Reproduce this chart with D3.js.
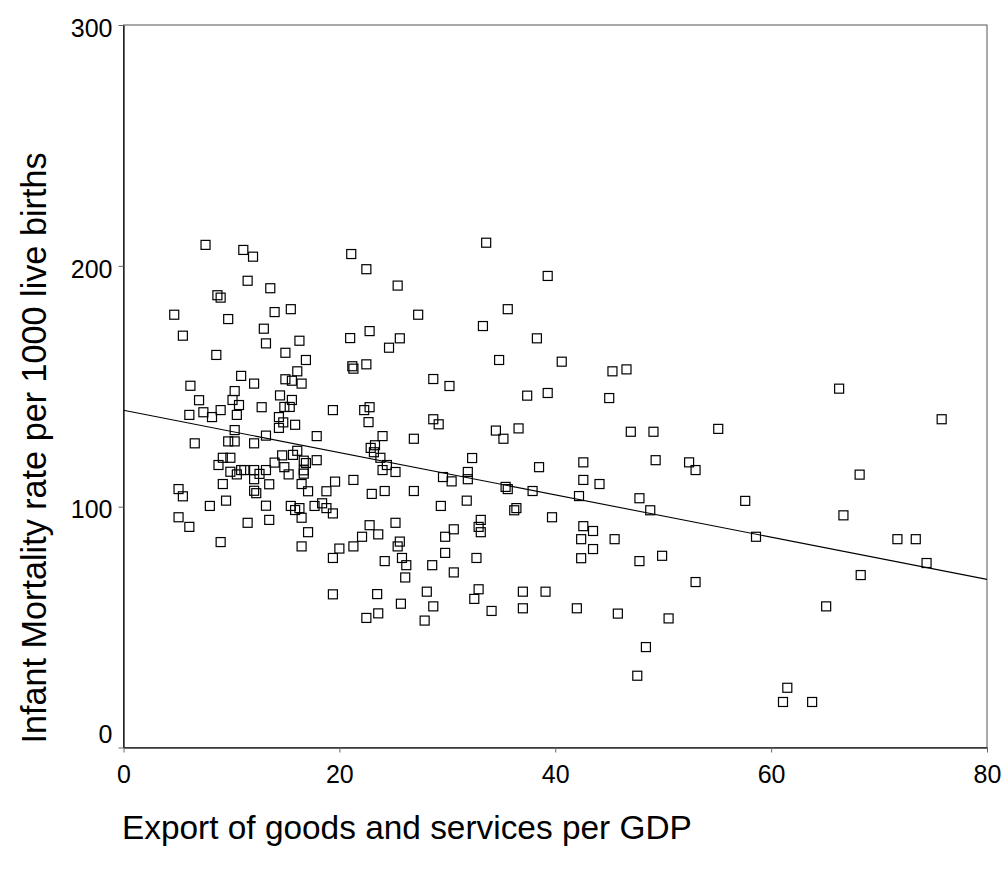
<!DOCTYPE html>
<html>
<head>
<meta charset="utf-8">
<script src="https://cdn.jsdelivr.net/npm/d3@7"></script>
<style>
  html, body { margin: 0; padding: 0; background: #fff; }
  svg { display: block; }
  text { font-family: Arial, "Liberation Sans", sans-serif; fill: #000; }
</style>
</head>
<body>
<svg id="chart" width="1005" height="873"></svg>
<script>
// Export share of GDP (%) for each country
const exportPct = [
  7.6, 11.1, 12.0, 11.5, 8.7, 9.0, 4.7, 9.7, 13.0, 13.2,
  5.5, 8.6, 10.9, 12.1, 6.2, 10.3, 7.0, 10.1, 10.7, 12.8,
  9.0, 7.4, 6.1, 8.2, 10.5, 10.3, 6.6, 9.7, 10.3, 12.1,
  13.2, 9.2, 9.9, 8.8, 9.9, 10.5, 10.9, 11.2, 12.1, 12.1,
  12.6, 13.2, 13.5, 9.2, 5.1, 5.5, 12.1, 12.3, 9.5, 8.0,
  13.2, 5.1, 6.1, 11.5, 13.5, 9.0, 21.1, 22.5, 13.6, 14.0,
  15.5, 16.3, 15.0, 16.9, 16.1, 15.0, 15.6, 16.5, 21.0, 22.8,
  21.2, 21.3, 22.5, 14.5, 15.6, 14.9, 15.4, 14.4, 14.8, 15.9,
  14.4, 19.4, 22.3, 22.8, 22.7, 17.9, 14.7, 15.7, 16.1, 16.7,
  16.9, 17.9, 14.0, 14.9, 15.3, 16.7, 16.7, 16.5, 17.1, 19.6,
  18.8, 21.3, 23.0, 15.5, 15.9, 16.3, 16.5, 17.7, 18.4, 18.8,
  19.4, 17.1, 16.5, 22.8, 22.1, 21.3, 20.0, 19.4, 33.6, 39.3,
  25.4, 27.3, 35.6, 33.3, 25.6, 24.6, 38.3, 34.8, 40.6, 28.7,
  30.2, 37.4, 39.3, 28.7, 29.2, 34.5, 36.6, 24.0, 26.9, 35.2,
  22.9, 23.3, 23.2, 23.8, 24.4, 24.0, 25.2, 32.3, 38.5, 29.6,
  30.4, 31.9, 31.9, 35.4, 35.6, 37.9, 24.2, 26.9, 31.8, 29.4,
  36.2, 36.4, 39.7, 23.6, 25.2, 30.6, 29.8, 33.1, 32.9, 33.1,
  25.6, 25.4, 25.8, 26.2, 24.2, 28.6, 29.8, 32.7, 30.6, 26.1,
  23.5, 25.7, 28.1, 28.7, 32.9, 32.5, 34.1, 37.0, 39.1, 37.0,
  23.6, 22.5, 27.9, 19.4, 45.3, 46.6, 45.0, 47.0, 49.1, 55.1,
  42.6, 49.3, 52.4, 53.0, 42.6, 44.1, 42.2, 47.8, 48.8, 57.6,
  42.6, 43.5, 42.4, 45.5, 43.5, 42.4, 47.8, 49.9, 53.0, 42.0,
  45.8, 50.5, 48.4, 47.6, 66.3, 75.8, 68.2, 66.7, 58.6, 71.7,
  73.4, 74.4, 68.3, 65.1, 61.5, 61.1, 63.8
];

// Infant deaths per 1000 live births, same country order
const infantMortality = [
  208.7, 206.6, 203.8, 193.8, 187.8, 186.8, 179.7, 177.9, 173.9, 167.8,
  171.0, 163.0, 154.3, 151.1, 150.2, 148.0, 144.2, 144.3, 142.2, 141.3,
  140.1, 139.2, 138.1, 137.2, 138.1, 131.8, 126.3, 127.1, 127.1, 126.3,
  129.5, 120.3, 120.3, 117.3, 114.5, 113.4, 115.2, 115.2, 115.2, 111.4,
  113.6, 115.2, 109.3, 109.4, 107.3, 104.3, 106.6, 105.6, 102.5, 100.3,
  100.4, 95.6, 91.6, 93.3, 94.5, 85.3, 204.9, 198.6, 190.7, 180.8,
  182.0, 168.9, 163.9, 160.9, 156.2, 152.9, 152.3, 151.1, 170.0, 172.9,
  158.3, 157.3, 159.1, 146.2, 144.3, 141.4, 141.4, 137.2, 135.0, 134.0,
  132.7, 140.1, 140.1, 141.3, 135.1, 129.3, 121.3, 121.5, 123.2, 119.1,
  118.1, 119.3, 118.3, 116.4, 113.4, 115.1, 113.7, 109.4, 106.4, 110.4,
  106.4, 111.1, 105.3, 100.3, 98.6, 99.4, 95.4, 100.3, 101.4, 99.4,
  97.2, 89.4, 83.5, 92.3, 87.5, 83.5, 82.6, 78.7, 209.6, 195.8,
  191.8, 179.7, 182.0, 175.0, 169.9, 166.0, 169.9, 160.9, 160.2, 153.0,
  150.1, 146.1, 147.2, 136.3, 134.2, 131.6, 132.5, 129.3, 128.2, 128.2,
  124.4, 125.5, 122.6, 120.3, 117.3, 115.2, 114.4, 120.2, 116.4, 112.3,
  110.5, 114.4, 111.4, 108.2, 107.3, 106.5, 106.5, 106.5, 102.5, 100.3,
  98.5, 99.4, 95.6, 88.5, 93.3, 90.6, 87.5, 94.5, 91.6, 89.4,
  85.5, 83.5, 78.7, 75.7, 77.4, 75.7, 80.8, 78.7, 72.7, 70.6,
  63.7, 59.7, 64.7, 58.6, 65.7, 61.7, 56.7, 64.7, 64.7, 57.8,
  55.7, 53.8, 52.7, 63.6, 156.2, 157.0, 145.1, 131.1, 131.1, 132.3,
  118.4, 119.3, 118.4, 115.2, 111.1, 109.4, 104.4, 103.5, 98.5, 102.4,
  91.9, 89.9, 86.5, 86.5, 82.4, 78.6, 77.4, 79.6, 68.7, 57.8,
  55.6, 53.6, 41.7, 29.8, 149.0, 136.3, 113.3, 96.4, 87.5, 86.5,
  86.5, 76.6, 71.6, 58.6, 24.8, 18.9, 18.9
];

// Least-squares fit line: mortality = fitIntercept + fitSlope * export
const fitIntercept = 140.0;
const fitSlope = -0.8775;

const xTicks = [0, 20, 40, 60, 80];
const yTicks = [0, 100, 200, 300];
const xDomain = [0, 80];
const yDomain = [0, 300];

const xTitle = "Export of goods and services per GDP";
const yTitle = "Infant Mortality rate per 1000 live births";

const svg = d3.select("#chart");
const plotLeft = 123.5, plotRight = 987, plotTop = 25, plotBottom = 747.5;

const x = d3.scaleLinear().domain(xDomain).range([plotLeft, plotRight]);
const y = d3.scaleLinear().domain(yDomain).range([plotBottom, plotTop]);

// frame around the plotting area
svg.append("rect")
  .attr("x", plotLeft).attr("y", plotTop)
  .attr("width", plotRight - plotLeft).attr("height", plotBottom - plotTop)
  .attr("fill", "none").attr("stroke", "#555").attr("stroke-width", 1);

// y axis
const yAxis = svg.append("g")
  .attr("transform", `translate(${plotLeft},0)`)
  .call(d3.axisLeft(y).tickValues(yTicks).tickSize(5).tickSizeOuter(0).tickPadding(6).tickFormat(d3.format("d")));
yAxis.select(".domain").attr("stroke", "#000").attr("stroke-width", 1.2);
yAxis.selectAll(".tick line").attr("stroke", "#666");
yAxis.selectAll(".tick text")
  .attr("font-size", 25).attr("font-family", "Arial, 'Liberation Sans', sans-serif")
  .attr("fill", "#000")
  .attr("dy", d => d === 0 ? "-0.2em" : "0.45em");

// x axis
const xAxis = svg.append("g")
  .attr("transform", `translate(0,${plotBottom})`)
  .call(d3.axisBottom(x).tickValues(xTicks).tickSize(5).tickSizeOuter(0).tickPadding(13).tickFormat(d3.format("d")));
xAxis.select(".domain").attr("stroke", "#333").attr("stroke-width", 1.4);
xAxis.selectAll(".tick line").attr("stroke", "#666");
xAxis.selectAll(".tick text")
  .attr("font-size", 25).attr("font-family", "Arial, 'Liberation Sans', sans-serif")
  .attr("fill", "#000");

// regression line across the full x range
svg.append("line")
  .attr("x1", x(xDomain[0])).attr("y1", y(fitIntercept + fitSlope * xDomain[0]))
  .attr("x2", x(xDomain[1])).attr("y2", y(fitIntercept + fitSlope * xDomain[1]))
  .attr("stroke", "#000").attr("stroke-width", 1.1);

// hollow square markers
const pts = exportPct.map((v, i) => ({ ex: v, im: infantMortality[i] }));
const s = 9;
svg.append("g").selectAll("rect")
  .data(pts)
  .join("rect")
  .attr("x", d => x(d.ex) - s / 2)
  .attr("y", d => y(d.im) - s / 2)
  .attr("width", s).attr("height", s)
  .attr("fill", "none")
  .attr("stroke", "#000")
  .attr("stroke-width", 1.2);

// axis titles
svg.append("text")
  .attr("x", 122).attr("y", 839)
  .attr("font-size", 33.4)
  .text(xTitle);

svg.append("text")
  .attr("transform", `translate(46,448) rotate(-90)`)
  .attr("text-anchor", "middle")
  .attr("font-size", 34.2)
  .text(yTitle);
</script>
</body>
</html>
